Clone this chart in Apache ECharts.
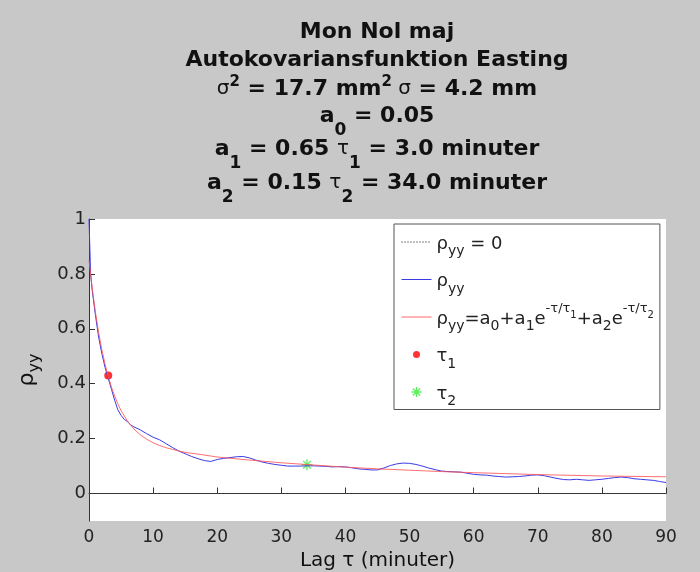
<!DOCTYPE html>
<html>
<head>
<meta charset="utf-8">
<script src="https://cdn.jsdelivr.net/npm/echarts@6/dist/echarts.min.js"></script>
<style>
  html, body { margin: 0; padding: 0; background: #c8c8c8; }
  #chart { width: 700px; height: 572px; }
</style>
</head>
<body>
<div id="chart"></div>
<script>
// measured autocovariance (blue)
const lagBlue = [0, 0.25, 0.5, 1, 1.5, 2, 2.5, 3, 3.5, 4, 4.5, 5, 5.5, 6, 6.5, 7, 8, 9, 10,
  11, 12, 13, 14, 15, 16, 17, 18, 19, 20, 21, 22, 23, 24, 25, 26, 27, 28, 29, 30,
  31, 32, 33, 34, 35, 36, 37, 38, 39, 40, 41, 42, 43, 44, 45, 46, 47, 48, 49, 50,
  51, 52, 53, 54, 55, 56, 57, 58, 59, 60, 61, 62, 63, 64, 65, 66, 67, 68, 69, 70,
  71, 72, 73, 74, 75, 76, 77, 78, 79, 80, 81, 82, 83, 84, 85, 86, 87, 88, 89, 90];
const rhoBlue = [1.0, 0.80, 0.74, 0.65, 0.57, 0.51, 0.46, 0.42, 0.38, 0.34, 0.305, 0.285, 0.27, 0.262, 0.25, 0.243, 0.232, 0.218, 0.205,
  0.196, 0.182, 0.168, 0.155, 0.145, 0.135, 0.127, 0.12, 0.117, 0.124, 0.128, 0.131, 0.134, 0.135, 0.13, 0.122, 0.115, 0.11, 0.106, 0.103,
  0.1, 0.1, 0.1, 0.101, 0.101, 0.1, 0.099, 0.097, 0.098, 0.097, 0.094, 0.09, 0.088, 0.086, 0.086, 0.093, 0.102, 0.108, 0.111, 0.11,
  0.106, 0.1, 0.093, 0.087, 0.082, 0.08, 0.079, 0.078, 0.074, 0.07, 0.068, 0.067, 0.064, 0.062, 0.06, 0.061, 0.062, 0.064, 0.067, 0.068,
  0.065, 0.06, 0.055, 0.051, 0.05, 0.052, 0.05, 0.048, 0.05, 0.052, 0.055, 0.058, 0.06, 0.058, 0.054, 0.052, 0.05, 0.048, 0.044, 0.04];

// fitted model (red)
const lagFit = [0, 0.5, 1, 1.5, 2, 2.5, 3, 3.5, 4, 4.5, 5, 6, 7, 8, 9, 10, 11, 12, 13, 14, 15, 17.5,
  20, 25, 30, 35, 40, 45, 50, 55, 60, 70, 80, 90];
const rhoFit = [0.85, 0.748, 0.661, 0.587, 0.525, 0.472, 0.426, 0.388, 0.355, 0.327, 0.302, 0.264, 0.235, 0.214,
  0.198, 0.185, 0.175, 0.167, 0.161, 0.155, 0.150, 0.142, 0.133, 0.122, 0.112, 0.104, 0.096, 0.090, 0.085,
  0.080, 0.076, 0.069, 0.064, 0.061];

const zeroLine = [[0, 0], [90, 0]];
const tau1Point = [3, 0.43];
const tau2Point = [34, 0.105];

const xTicks = [0, 10, 20, 30, 40, 50, 60, 70, 80, 90];
const yTicks = [0, 0.2, 0.4, 0.6, 0.8, 1];

const titleLines = [
  '{b|Mon Nol maj}',
  '{b|Autokovariansfunktion Easting}',
  '{g|σ}{sup|2}{b| = 17.7 mm}{sup|2}{g| σ}{b| = 4.2 mm}',
  '{b|a}{sub|0}{b| = 0.05}',
  '{b|a}{sub|1}{b| = 0.65 }{g|τ}{sub|1}{b| = 3.0 minuter}',
  '{b|a}{sub|2}{b| = 0.15 }{g|τ}{sub|2}{b| = 34.0 minuter}'
];
const titleTops = [17, 45, 74, 101, 134, 168];

const FONT = 'DejaVu Sans';

function pair(xs, ys) { return xs.map((x, i) => [x, ys[i]]); }

const legendLabels = {
  zero: '{t|ρ}{s|yy}{t| = 0}',
  rho: '{t|ρ}{s|yy}',
  fit: '{t|ρ}{s|yy}{t|=a}{s|0}{t|+a}{s|1}{t|e}{p|-τ/τ}{ps|1}{t|+a}{s|2}{t|e}{p|-τ/τ}{ps|2}',
  tau1: '{t|τ}{s|1}',
  tau2: '{t|τ}{s|2}'
};

const titleRich = {
  b: { fontFamily: FONT, fontSize: 22, fontWeight: 'bold', color: '#111', lineHeight: 30, height: 30, verticalAlign: 'top' },
  g: { fontFamily: FONT, fontSize: 20, fontWeight: 'normal', color: '#111', lineHeight: 30, height: 30, verticalAlign: 'top' },
  sub: { fontFamily: FONT, fontSize: 17, fontWeight: 'bold', color: '#111', lineHeight: 30, height: 17, padding: [21, 0, 0, 0], verticalAlign: 'top' },
  sup: { fontFamily: FONT, fontSize: 15, fontWeight: 'bold', color: '#111', lineHeight: 30, height: 15, padding: [0.5, 0, 0, 0], verticalAlign: 'top' }
};

const lineIcon = 'path://M0,0M30,12M0,6L30,6';

const chart = echarts.init(document.getElementById('chart'));
chart.setOption({
  backgroundColor: '#c8c8c8',
  animation: false,
  title: titleLines.map((t, i) => ({
    text: t,
    left: 377,
    top: titleTops[i],
    textAlign: 'center',
    padding: 0,
    textStyle: { rich: titleRich }
  })),
  grid: {
    left: 89, right: 34, top: 219, bottom: 51,
    outerBoundsMode: 'none',
    show: true, backgroundColor: '#fff', borderWidth: 0
  },
  legend: {
    orient: 'vertical',
    left: 394, top: 224,
    backgroundColor: '#fff',
    borderColor: '#555', borderWidth: 1, borderRadius: 0,
    padding: [3, 6, 1, 5],
    itemWidth: 30, itemHeight: 12, itemGap: 6,
    textStyle: {
      rich: {
        t: { fontFamily: FONT, fontSize: 18, color: '#222', lineHeight: 30, height: 26, padding: [4, 0, 0, 0], verticalAlign: 'top' },
        s: { fontFamily: FONT, fontSize: 14, color: '#222', lineHeight: 30, height: 13, padding: [18, 0, 0, 0], verticalAlign: 'top' },
        p: { fontFamily: FONT, fontSize: 13, color: '#222', lineHeight: 30, height: 13, padding: [0, 0, 0, 0], verticalAlign: 'top' },
        ps: { fontFamily: FONT, fontSize: 10, color: '#222', lineHeight: 30, height: 10, padding: [8, 0, 0, 0], verticalAlign: 'top' }
      }
    },
    formatter: name => legendLabels[name],
    data: [
      { name: 'zero', icon: lineIcon, itemStyle: { color: 'none', borderColor: '#000', borderWidth: 1, borderType: [1, 2] } },
      { name: 'rho', icon: lineIcon, itemStyle: { color: 'none', borderColor: '#3b3be6', borderWidth: 1 } },
      { name: 'fit', icon: lineIcon, itemStyle: { color: 'none', borderColor: '#ff6a6a', borderWidth: 1 } },
      { name: 'tau1', icon: 'path://M0,0M30,12M11.5,6a3.5,3.5 0 1,0 7,0a3.5,3.5 0 1,0 -7,0' },
      { name: 'tau2', icon: 'path://M0,0M30,12M15,1L15,11M10,6L20,6M11.5,2.5L18.5,9.5M11.5,9.5L18.5,2.5',
        itemStyle: { color: '#33ee33', borderColor: '#33ee33', borderWidth: 1.3 } }
    ]
  },
  xAxis: {
    type: 'value', min: 0, max: 90, interval: 10,
    name: 'Lag τ (minuter)', nameLocation: 'middle', nameGap: 21,
    nameTextStyle: { fontFamily: FONT, fontSize: 20, color: '#111' },
    axisLine: { lineStyle: { color: '#333', width: 1 } },
    axisTick: { inside: true, length: 6, lineStyle: { color: '#333' }, customValues: xTicks },
    axisLabel: { fontFamily: FONT, fontSize: 17, color: '#222', margin: 8, customValues: xTicks },
    splitLine: { show: false }
  },
  yAxis: {
    type: 'value', min: -0.1, max: 1,
    name: '{r|ρ}{s|yy}', nameLocation: 'middle', nameGap: 47,
    nameTextStyle: {
      rich: {
        r: { fontFamily: FONT, fontSize: 22, color: '#111', lineHeight: 28, height: 26, verticalAlign: 'top' },
        s: { fontFamily: FONT, fontSize: 16, color: '#111', lineHeight: 28, height: 16, padding: [13, 0, 0, 0], verticalAlign: 'top' }
      }
    },
    axisLine: { show: true, lineStyle: { color: '#333', width: 1 } },
    axisTick: { show: true, inside: true, length: 6, lineStyle: { color: '#333' }, customValues: yTicks },
    axisLabel: { fontFamily: FONT, fontSize: 18, color: '#222', margin: 3, customValues: yTicks,
      formatter: v => String(+v.toFixed(1)) },
    splitLine: { show: false }
  },
  series: [
    {
      name: 'zero', type: 'line', data: zeroLine, symbol: 'none',
      itemStyle: { color: '#000' },
      lineStyle: { color: '#444', width: 1, type: [1.5, 2.5] }
    },
    {
      name: 'rho', type: 'line', data: pair(lagBlue, rhoBlue), symbol: 'none',
      itemStyle: { color: '#3b3be6' },
      lineStyle: { color: '#3b3be6', width: 1 }
    },
    {
      name: 'fit', type: 'line', data: pair(lagFit, rhoFit), symbol: 'none',
      itemStyle: { color: '#ff5555' },
      lineStyle: { color: '#ff5555', width: 1, opacity: 0.85 }
    },
    {
      name: 'tau1', type: 'scatter', data: [tau1Point], symbol: 'circle', symbolSize: 8,
      itemStyle: { color: '#ff0000' }
    },
    {
      name: 'tau2', type: 'scatter', data: [tau2Point],
      symbol: 'path://M0,-5L0,5M-5,0L5,0M-3.5,-3.5L3.5,3.5M-3.5,3.5L3.5,-3.5', symbolSize: 11,
      itemStyle: { color: '#33ee33', borderColor: '#33ee33', borderWidth: 1.3 }
    }
  ]
});
</script>
</body>
</html>
